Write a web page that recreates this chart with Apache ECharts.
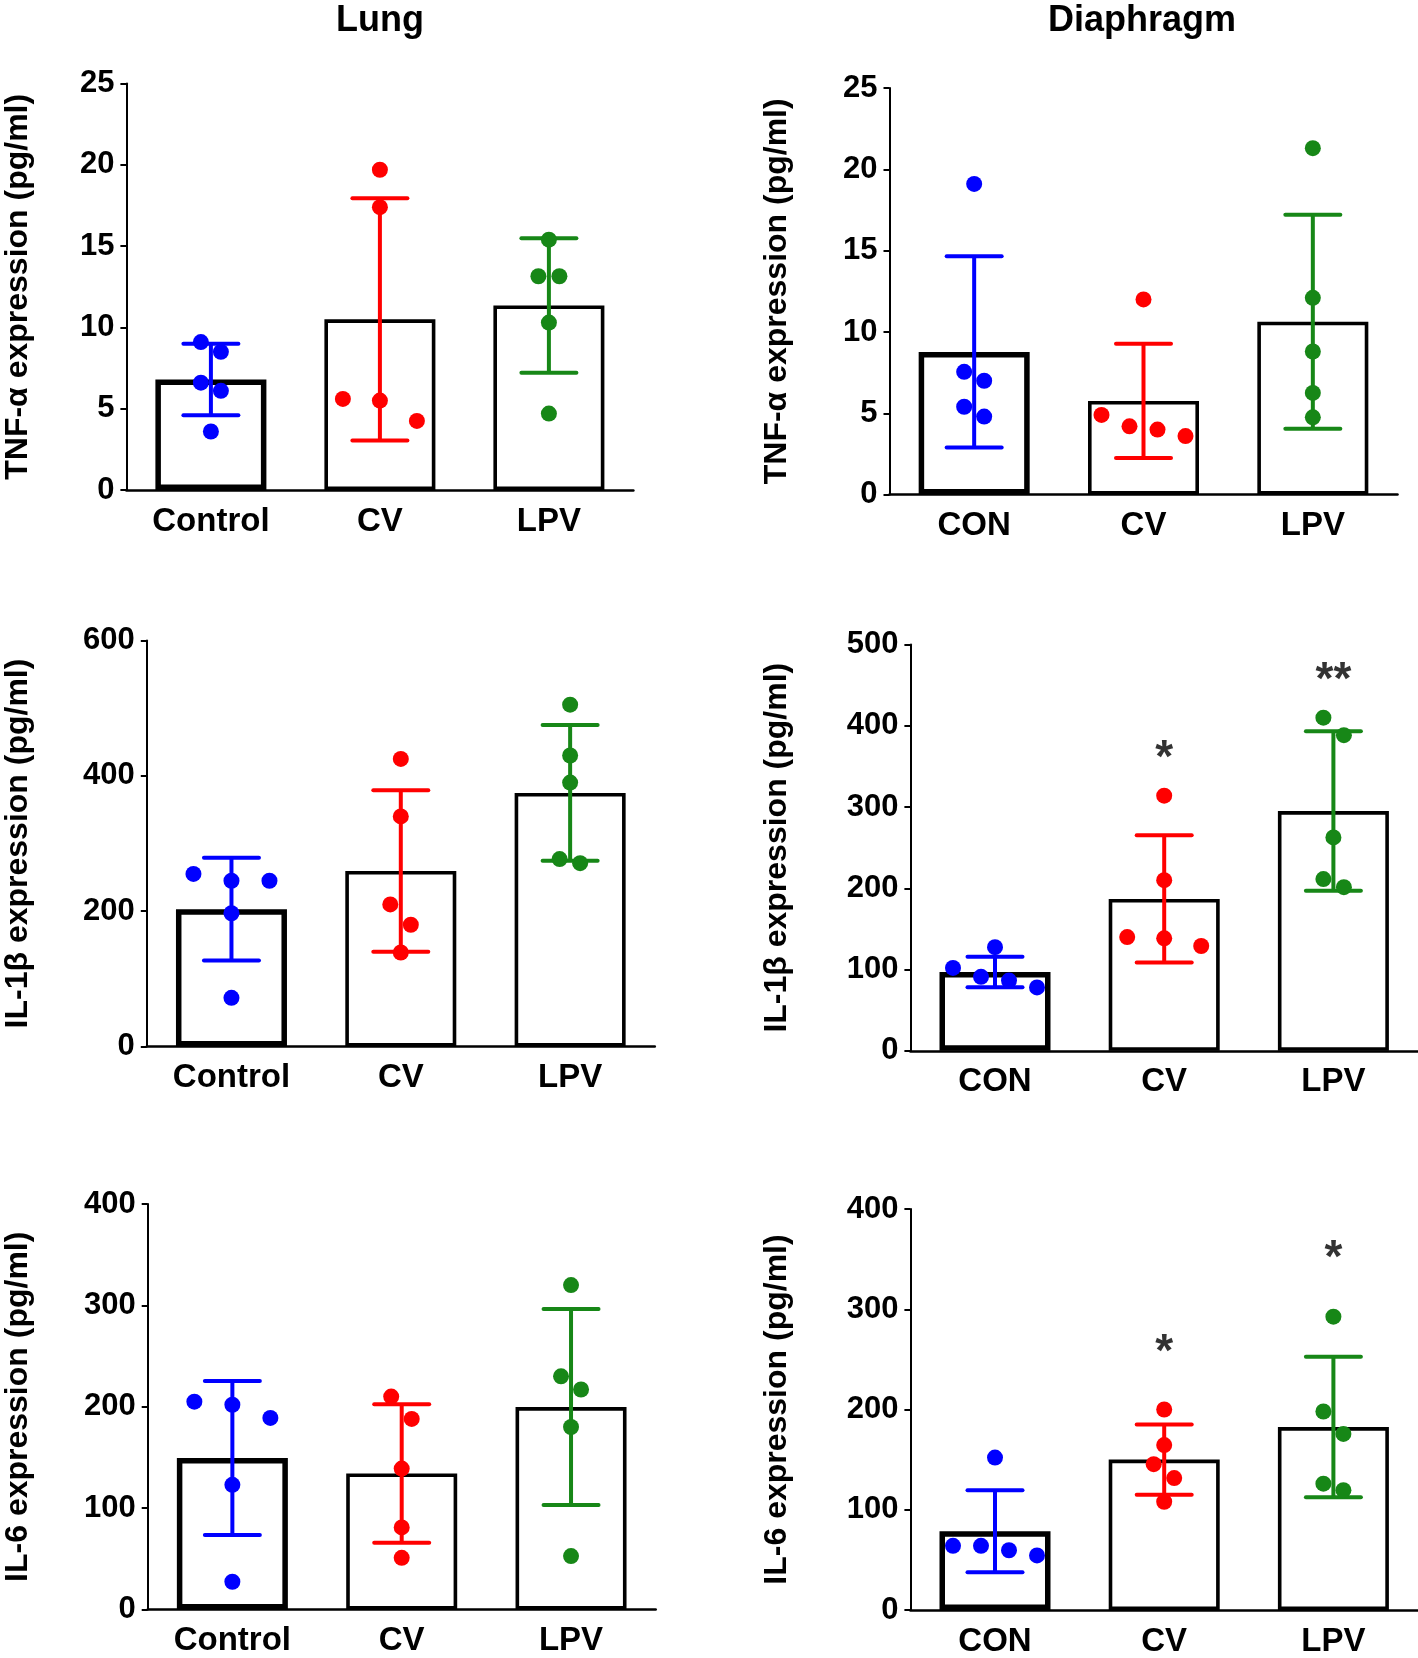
<!DOCTYPE html>
<html>
<head>
<meta charset="utf-8">
<script src="https://cdn.jsdelivr.net/npm/echarts@6/dist/echarts.min.js"></script>
<style>
html,body{margin:0;padding:0;background:#fff;}
#chart{width:1418px;height:1658px;}
</style>
</head>
<body>
<div id="chart"></div>
<script>
// ---------- DATA ----------
const lungCats = ['Control', 'CV', 'LPV'];
const diaCats = ['CON', 'CV', 'LPV'];

// Lung TNF-α
const lungTnfMean = [6.8, 10.5, 11.35];
const lungTnfSd = [2.2, 7.45, 4.13];
const lungTnfCon = [9.1, 8.5, 6.6, 6.1, 3.6];
const lungTnfCv = [19.7, 17.4, 5.6, 5.5, 4.25];
const lungTnfLpv = [15.4, 13.15, 13.15, 10.3, 4.7];
const lungTnfTicks = [0, 25, 5];

// Diaphragm TNF-α
const diaTnfMean = [8.77, 5.76, 10.63];
const diaTnfSd = [5.88, 3.51, 6.58];
const diaTnfCon = [19.1, 7.55, 7.0, 5.4, 4.8];
const diaTnfCv = [12.0, 4.9, 4.2, 4.0, 3.6];
const diaTnfLpv = [21.3, 12.1, 8.8, 6.25, 4.75];
const diaTnfTicks = [0, 25, 5];

// Lung IL-1β
const lungIl1Mean = [203, 259.4, 374.7];
const lungIl1Sd = [76, 119.3, 100.3];
const lungIl1Con = [255, 245, 245, 197, 72];
const lungIl1Cv = [425, 340, 210, 180, 139];
const lungIl1Lpv = [505, 430, 390, 277, 271];
const lungIl1Ticks = [0, 600, 200];

// Diaphragm IL-1β
const diaIl1Mean = [97, 186.9, 295.1];
const diaIl1Sd = [18.9, 78.3, 98.1];
const diaIl1Con = [102, 127.6, 91, 86.4, 78];
const diaIl1Cv = [314, 210, 140, 138.5, 129];
const diaIl1Lpv = [410, 388.5, 262.6, 211.4, 201.4];
const diaIl1Ticks = [0, 500, 100];
const diaIl1Sig = ['', '*', '**'];
const diaIl1SigY = [null, 369, 465];

// Lung IL-6
const lungIl6Mean = [149.4, 134.2, 199.7];
const lungIl6Sd = [75.9, 68.3, 96.7];
const lungIl6Con = [205, 202, 189, 123, 27.4];
const lungIl6Cv = [210, 188, 139, 81, 51];
const lungIl6Lpv = [320, 230, 217, 180, 52.7];
const lungIl6Ticks = [0, 400, 100];

// Diaphragm IL-6
const diaIl6Mean = [78.6, 150, 182.5];
const diaIl6Sd = [40.9, 35, 70];
const diaIl6Con = [152, 64, 64, 59.6, 54.4];
const diaIl6Cv = [200, 164.5, 145.5, 131.6, 108];
const diaIl6Lpv = [292.6, 198, 175.6, 126, 119.5];
const diaIl6Ticks = [0, 400, 100];
const diaIl6Sig = ['', '*', '*'];
const diaIl6SigY = [null, 264, 357.4];

// ---------- LAYOUT / STYLE ----------
const FONT = '"Liberation Sans", Arial, Helvetica, sans-serif';
const groupColors = ['#0000ff', '#ff0000', '#178717'];
// horizontal scatter offsets (px) per panel, per group
const jitter = [
  [[-10, 10, -10, 10, 0], [0, 0, -37, 0, 37], [0, -10.5, 10.5, 0, 0]],
  [[0, -10, 10, -10, 10], [0, -42, -14, 14, 42], [0, 0, 0, 0, 0]],
  [[-38, 0, 38, 0, 0], [0, 0, -10.5, 10, 0], [0, 0, 0, -10.5, 10]],
  [[-42, 0, -14, 14, 42], [0, 0, -37, 0, 37], [-10, 10.5, 0, -10, 10.5]],
  [[-38, 0, 38, 0, 0], [-10.5, 10, 0, 0, 0], [0, -10, 10, 0, 0]],
  [[0, -42, -14, 14, 42], [0, 0, -10.5, 10, 0], [0, -10, 10, -10, 10]]
];
const grids = [
  {left: 126.4, top: 83.6, width: 507, height: 406.4, nameGap: 92},
  {left: 889.5, top: 88, width: 508, height: 406.6, nameGap: 96},
  {left: 146.8, top: 640.4, width: 508, height: 406.2, nameGap: 113},
  {left: 910.4, top: 644.6, width: 507.6, height: 406.2, nameGap: 117},
  {left: 147.7, top: 1204, width: 508, height: 405.5, nameGap: 114},
  {left: 910.4, top: 1209, width: 507.6, height: 405.7, nameGap: 117}
];

const panels = [
  {cats: lungCats, mean: lungTnfMean, sd: lungTnfSd, pts: [lungTnfCon, lungTnfCv, lungTnfLpv], ticks: lungTnfTicks, name: 'TNF-α expression (pg/ml)'},
  {cats: diaCats, mean: diaTnfMean, sd: diaTnfSd, pts: [diaTnfCon, diaTnfCv, diaTnfLpv], ticks: diaTnfTicks, name: 'TNF-α expression (pg/ml)'},
  {cats: lungCats, mean: lungIl1Mean, sd: lungIl1Sd, pts: [lungIl1Con, lungIl1Cv, lungIl1Lpv], ticks: lungIl1Ticks, name: 'IL-1β expression (pg/ml)'},
  {cats: diaCats, mean: diaIl1Mean, sd: diaIl1Sd, pts: [diaIl1Con, diaIl1Cv, diaIl1Lpv], ticks: diaIl1Ticks, name: 'IL-1β expression (pg/ml)', sig: diaIl1Sig, sigY: diaIl1SigY},
  {cats: lungCats, mean: lungIl6Mean, sd: lungIl6Sd, pts: [lungIl6Con, lungIl6Cv, lungIl6Lpv], ticks: lungIl6Ticks, name: 'IL-6 expression (pg/ml)'},
  {cats: diaCats, mean: diaIl6Mean, sd: diaIl6Sd, pts: [diaIl6Con, diaIl6Cv, diaIl6Lpv], ticks: diaIl6Ticks, name: 'IL-6 expression (pg/ml)', sig: diaIl6Sig, sigY: diaIl6SigY}
];

const option = {
  animation: false,
  backgroundColor: '#fff',
  title: [
    {text: 'Lung', left: 380, top: 3, textAlign: 'center', padding: 0,
     textStyle: {fontFamily: FONT, fontSize: 36, fontWeight: 'bold', color: '#000'}},
    {text: 'Diaphragm', left: 1142, top: 3, textAlign: 'center', padding: 0,
     textStyle: {fontFamily: FONT, fontSize: 36, fontWeight: 'bold', color: '#000'}}
  ],
  grid: [], xAxis: [], yAxis: [], series: []
};

panels.forEach((p, k) => {
  const g = grids[k];
  option.grid.push({left: g.left, top: g.top, width: g.width, height: g.height, containLabel: false});
  option.xAxis.push({
    type: 'category', gridIndex: k, data: p.cats, boundaryGap: true,
    axisLine: {lineStyle: {color: '#000', width: 2.5}},
    axisTick: {alignWithLabel: true, length: 6, lineStyle: {color: '#000', width: 2}},
    axisLabel: {fontFamily: FONT, fontSize: 33, fontWeight: 'bold', color: '#000', margin: 15},
    splitLine: {show: false}
  });
  option.yAxis.push({
    type: 'value', gridIndex: k, min: p.ticks[0], max: p.ticks[1], interval: p.ticks[2],
    name: p.name, nameLocation: 'middle', nameGap: g.nameGap, nameRotate: 90,
    nameTextStyle: {fontFamily: FONT, fontSize: 32, fontWeight: 'bold', color: '#000'},
    axisLine: {show: true, lineStyle: {color: '#000', width: 2}},
    axisTick: {show: true, length: 6, lineStyle: {color: '#000', width: 2}},
    axisLabel: {fontFamily: FONT, fontSize: 31, fontWeight: 'bold', color: '#000', margin: 12},
    splitLine: {show: false}
  });
  // bars
  option.series.push({
    type: 'bar', xAxisIndex: k, yAxisIndex: k, barWidth: 111, z: 2,
    data: p.mean.map((v, i) => ({
      value: v,
      itemStyle: {color: '#fff', borderColor: '#000', borderWidth: i === 0 ? 5.5 : 3.6}
    }))
  });
  // error bars (mean ± SD)
  option.series.push({
    type: 'custom', xAxisIndex: k, yAxisIndex: k, z: 3,
    data: p.mean.map((v, i) => [i, v, p.sd[i]]),
    renderItem: (params, api) => {
      const i = api.value(0), m = api.value(1), s = api.value(2);
      const top = api.coord([i, m + s]);
      const bot = api.coord([i, m - s]);
      const half = 27.5;
      const style = {stroke: groupColors[i], lineWidth: 4, lineCap: 'round'};
      return {type: 'group', children: [
        {type: 'line', shape: {x1: top[0], y1: top[1], x2: bot[0], y2: bot[1]}, style: {stroke: groupColors[i], lineWidth: 4}},
        {type: 'line', shape: {x1: top[0] - half, y1: top[1], x2: top[0] + half, y2: top[1]}, style},
        {type: 'line', shape: {x1: bot[0] - half, y1: bot[1], x2: bot[0] + half, y2: bot[1]}, style}
      ]};
    }
  });
  // individual points
  p.pts.forEach((arr, i) => {
    option.series.push({
      type: 'scatter', xAxisIndex: k, yAxisIndex: k, z: 4, symbol: 'circle', symbolSize: 16,
      itemStyle: {color: groupColors[i], opacity: 1},
      data: arr.map((v, j) => ({value: [i, v], symbolOffset: [jitter[k][i][j], 0]}))
    });
  });
  // significance marks
  if (p.sig) {
    option.series.push({
      type: 'scatter', xAxisIndex: k, yAxisIndex: k, z: 5, symbolSize: 1,
      itemStyle: {color: 'rgba(0,0,0,0)'},
      data: p.sig.map((t, i) => t ? {value: [i, p.sigY[i]], name: t} : null).filter(d => d),
      label: {show: true, position: 'inside', formatter: d => d.name,
              fontFamily: FONT, fontSize: 46, fontWeight: 'bold', color: '#000', offset: [0, 8]}
    });
  }
});

const chart = echarts.init(document.getElementById('chart'), null, {renderer: 'canvas'});
chart.setOption(option);
</script>
</body>
</html>
